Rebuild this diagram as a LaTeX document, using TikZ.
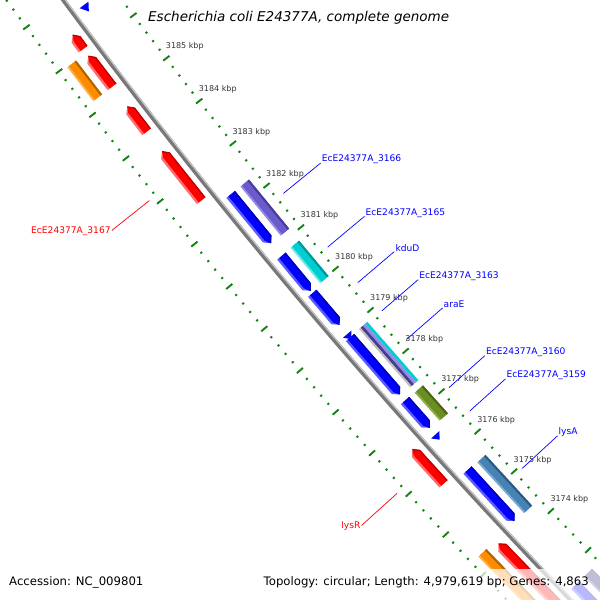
\documentclass[tikz,border=0pt]{standalone}
\usepackage{fontspec}
\setmainfont{DejaVu Sans}
\usetikzlibrary{positioning}

\definecolor{tickgreen}{RGB}{20,130,20}
\definecolor{labelblue}{RGB}{0,0,255}
\definecolor{labelred}{RGB}{255,0,0}
\definecolor{cdsblue}{RGB}{0,0,255}
\definecolor{cdsbluel}{RGB}{90,90,255}
\definecolor{cdsblued}{RGB}{0,0,170}
\definecolor{cdsred}{RGB}{255,0,0}
\definecolor{cdsredl}{RGB}{255,110,110}
\definecolor{cdsredd}{RGB}{190,0,0}
\definecolor{coggold}{RGB}{255,140,0}
\definecolor{coggoldl}{RGB}{255,175,70}
\definecolor{coggoldd}{RGB}{175,100,0}
\definecolor{cogslate}{RGB}{106,90,205}
\definecolor{cogslatel}{RGB}{150,140,230}
\definecolor{cogslated}{RGB}{70,60,150}
\definecolor{cogcyan}{RGB}{0,206,209}
\definecolor{cogcyanl}{RGB}{110,230,230}
\definecolor{cogcyand}{RGB}{0,150,150}
\definecolor{cogolive}{RGB}{107,142,35}
\definecolor{cogolivel}{RGB}{145,175,75}
\definecolor{cogolived}{RGB}{75,100,25}
\definecolor{cogsteel}{RGB}{70,130,180}
\definecolor{cogsteell}{RGB}{120,170,210}
\definecolor{cogsteeld}{RGB}{45,90,130}
\definecolor{cogslategray}{RGB}{112,128,144}
\definecolor{cognavy}{RGB}{25,25,112}
\definecolor{cognavyl}{RGB}{90,90,170}
\definecolor{backgray}{RGB}{120,120,120}

% kbp -> angle on the map
\pgfmathdeclarefunction{ang}{1}{\pgfmathparse{142.51+0.52*(#1-3185)}}

% arrow: back kbp, tip kbp, radius, fill, light, dark
\newcommand{\cds}[6]{%
  \pgfmathsetmacro{\aB}{ang(#1)}%
  \pgfmathsetmacro{\aT}{ang(#2)}%
  \pgfmathsetmacro{\aN}{ang(#2)+0.052*(#1-#2)/abs(#1-#2)}%
  \pgfmathsetmacro{\rI}{#3-5.5}%
  \pgfmathsetmacro{\rO}{#3+5.5}%
  \pgfmathsetmacro{\rM}{#3+3}%
  \pgfmathsetmacro{\rD}{#3-4.8}%
  \fill[#5] (\aB:\rI) -- (\aB:\rO) -- (\aN:\rO) -- (\aT:#3) -- (\aN:\rI) -- cycle;
  \fill[#4] (\aB:\rI) -- (\aB:\rM) -- (\aN:\rM) -- (\aT:#3) -- (\aN:\rI) -- cycle;
  \draw[#6, line width=1.2pt] (\aB:\rD) -- (\aN:\rD) -- (\aT:#3);
}
% box: from kbp, to kbp, radius, fill, light, dark
\newcommand{\cog}[6]{%
  \pgfmathsetmacro{\aB}{ang(#1)}%
  \pgfmathsetmacro{\aT}{ang(#2)}%
  \pgfmathsetmacro{\rI}{#3-5.5}%
  \pgfmathsetmacro{\rO}{#3+5.5}%
  \pgfmathsetmacro{\rM}{#3+3.5}%
  \pgfmathsetmacro{\rD}{#3-3.5}%
  \fill[#5] (\aB:\rI) -- (\aB:\rO) -- (\aT:\rO) -- (\aT:\rI) -- cycle;
  \fill[#4] (\aB:\rI) -- (\aB:\rM) -- (\aT:\rM) -- (\aT:\rI) -- cycle;
  \fill[#6] (\aB:\rI) -- (\aB:\rD) -- (\aT:\rD) -- (\aT:\rI) -- cycle;
}
% one stripe of a box: from kbp, to kbp, inner radius, outer radius, fill
\newcommand{\cogstripe}[5]{%
  \pgfmathsetmacro{\aB}{ang(#1)}%
  \pgfmathsetmacro{\aT}{ang(#2)}%
  \fill[#5] (\aB:#3) -- (\aB:#4) -- (\aT:#4) -- (\aT:#3) -- cycle;
}
% very short gene: back kbp, tip kbp, radius, fill
\newcommand{\tinycds}[4]{%
  \pgfmathsetmacro{\aB}{ang(#1)}%
  \pgfmathsetmacro{\aT}{ang(#2)}%
  \pgfmathsetmacro{\rI}{#3-5.5}%
  \pgfmathsetmacro{\rO}{#3+5.5}%
  \fill[#4] (\aB:\rI) -- (\aB:\rO) -- (\aT:#3) -- cycle;
}
% gene label: kbp, name, text, side (1 = right, -1 = left), colour
\newcommand{\genelabel}[5]{%
  \pgfmathsetmacro{\aL}{ang(#1)}%
  \pgfmathsetmacro{\rP}{5999.5-54.5*#4}%
  \pgfmathsetmacro{\rQ}{5999.5-102.5*#4}%
  \coordinate (p#2) at (\aL:\rP);
  \coordinate (q#2) at (\aL:\rQ);
  \ifnum#4=1
    \node[genetext, text=#5, anchor=west, xshift=1pt, yshift=3.5pt] (#2) at (q#2) {#3};
  \else
    \node[genetext, text=#5, anchor=east, xshift=-1pt, yshift=-0.5pt] (#2) at (q#2) {#3};
  \fi
  \draw[#5, line width=0.7pt] (p#2) -- (q#2);
}

\begin{document}
\begin{tikzpicture}[x=1pt, y=-1pt,
  bigtick/.style={tickgreen, line width=1.9pt},
  smalltick/.style={tickgreen, line width=1.9pt},
  ticklabel/.style={font=\fontsize{8}{9}\selectfont, text=black!80, inner sep=0pt, anchor=west, xshift=-0.5pt, yshift=11.5pt},
  genetext/.style={font=\fontsize{9.1}{10}\selectfont, inner sep=0pt},
  footer/.style={font=\fontsize{11.7}{13}\selectfont, inner sep=0pt}]
\useasboundingbox (0,0) rectangle (600,600);
\clip (0,0) rectangle (600,600);
\fill[white] (0,0) rectangle (600,600);

\begin{scope}[shift={(4889.5,-3564.7)}]
% Tick rings
\foreach \i in {0,...,90}{
  \pgfmathsetmacro{\aK}{ang(3171+0.2*\i)}
  \pgfmathtruncatemacro{\isbig}{mod(\i,5)==0}
  \ifnum\isbig=1
    \draw[bigtick] (\aK:5949) -- (\aK:5957);
    \draw[bigtick] (\aK:6042) -- (\aK:6050);
  \else
    \draw[smalltick] (\aK:5952) -- (\aK:5954.2);
    \draw[smalltick] (\aK:6045) -- (\aK:6047.2);
  \fi
}
\foreach \kb in {3174,...,3185}{
  \pgfmathsetmacro{\aK}{ang(\kb)}
  \node[ticklabel] (k\kb) at (\aK:5953) {\kb\ kbp};
}

% Backbone
\pgfmathsetmacro{\aS}{ang(3188)}
\pgfmathsetmacro{\aE}{ang(3170)}
\draw[backgray, line width=4.4pt] (\aS:6000) arc[start angle=\aS, end angle=\aE, radius=6000];
\draw[black!22, line width=1.2pt] (\aS:5998.4) arc[start angle=\aS, end angle=\aE, radius=5998.4];

% Forward strand CDS
\tinycds{3186.70}{3186.55}{5986.5}{cdsblue}
\cds{3182.29}{3181.13}{5986.5}{cdsblue}{cdsbluel}{cdsblued}
\cds{3180.82}{3179.99}{5986.5}{cdsblue}{cdsbluel}{cdsblued}
\cds{3179.93}{3179.17}{5986.5}{cdsblue}{cdsbluel}{cdsblued}
\cds{3178.86}{3177.47}{5986.5}{cdsblue}{cdsbluel}{cdsblued}
\tinycds{3178.94}{3178.82}{5986.5}{cdsblue}
\cds{3177.32}{3176.65}{5986.5}{cdsblue}{cdsbluel}{cdsblued}
\tinycds{3176.48}{3176.36}{5986.5}{cdsblue}
\cds{3175.60}{3174.33}{5986.5}{cdsblue}{cdsbluel}{cdsblued}
\cds{3172.70}{3170.50}{5986.5}{cdsblue}{cdsbluel}{cdsblued}

% Forward strand COG boxes
\cog{3182.29}{3181.12}{5968.5}{cogslate}{cogslatel}{cogslated}
\cog{3180.83}{3179.98}{5968.5}{cogcyan}{cogcyanl}{cogcyand}
\cogstripe{3178.87}{3177.44}{5963}{5966}{cogcyan}
\cogstripe{3178.87}{3177.44}{5966}{5969}{cogslatel}
\cogstripe{3178.87}{3177.44}{5969}{5972}{cogslated}
\cogstripe{3178.87}{3177.44}{5972}{5974}{black!25}
\cog{3177.31}{3176.62}{5968.5}{cogolive}{cogolivel}{cogolived}
\cog{3175.58}{3174.31}{5968.5}{cogsteel}{cogsteell}{cogsteeld}
\cog{3172.70}{3170.50}{5968.5}{cognavy}{cognavyl}{cognavy}

% Reverse strand CDS
\cds{3186.06}{3186.38}{6013.5}{cdsred}{cdsredl}{cdsredd}
\cds{3185.19}{3185.90}{6013.5}{cdsred}{cdsredl}{cdsredd}
\cds{3184.15}{3184.73}{6013.5}{cdsred}{cdsredl}{cdsredd}
\cds{3182.54}{3183.69}{6013.5}{cdsred}{cdsredl}{cdsredd}
\cds{3175.71}{3176.56}{6013.5}{cdsred}{cdsredl}{cdsredd}
\cds{3170.50}{3174.22}{6013.5}{cdsred}{cdsredl}{cdsredd}

% Reverse strand COG boxes
\cog{3185.19}{3185.97}{6031.5}{coggold}{coggoldl}{coggoldd}
\cog{3170.50}{3174.30}{6031.5}{coggold}{coggoldl}{coggoldd}

% Gene labels
\genelabel{3181.69}{g3166}{EcE24377A\_3166}{1}{labelblue}
\genelabel{3180.40}{g3165}{EcE24377A\_3165}{1}{labelblue}
\genelabel{3179.54}{kduD}{kduD}{1}{labelblue}
\genelabel{3178.85}{g3163}{EcE24377A\_3163}{1}{labelblue}
\genelabel{3178.15}{araE}{araE}{1}{labelblue}
\genelabel{3176.96}{g3160}{EcE24377A\_3160}{1}{labelblue}
\genelabel{3176.38}{g3159}{EcE24377A\_3159}{1}{labelblue}
\genelabel{3174.94}{lysA}{lysA}{1}{labelblue}
\genelabel{3183.13}{g3167}{EcE24377A\_3167}{-1}{labelred}
\genelabel{3176.15}{lysR}{lysR}{-1}{labelred}
\end{scope}

% Title and footer
\node[font=\fontsize{13.5}{15}\selectfont\itshape, inner sep=0pt, anchor=west] (title) at (148,18) {Escherichia coli E24377A, complete genome};
\fill[white, opacity=0.72] (0,569) rectangle (600,600);
\node[footer, anchor=west] (accession) at (9,582) {Accession: NC\_009801};
\node[footer, anchor=east] (topology) at (589,582) {Topology: circular; Length: 4,979,619 bp; Genes: 4,863};
\end{tikzpicture}
\end{document}
